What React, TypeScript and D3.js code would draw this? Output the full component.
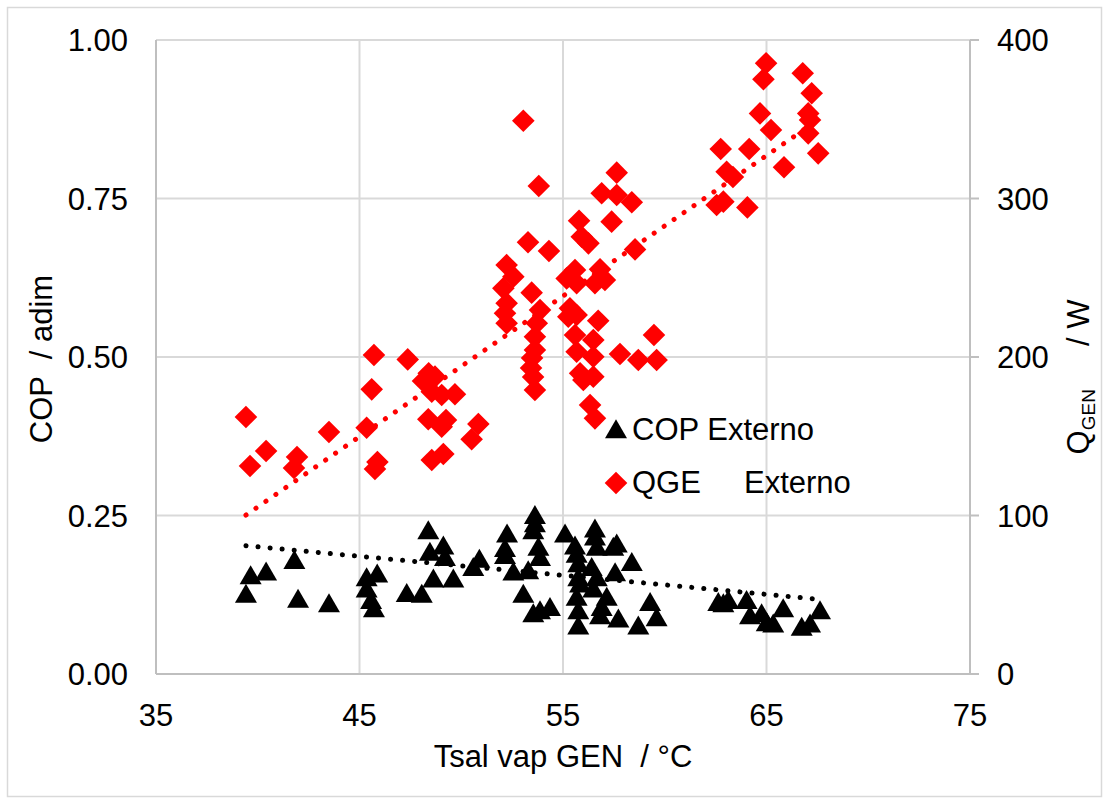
import React from "react";
import * as d3 from "d3";

const WIDTH = 1104;
const HEIGHT = 800;

// Axis ticks
const tempTicks = [35, 45, 55, 65, 75];
const copTicks = [0, 0.25, 0.5, 0.75, 1.0];
const qTicks = [0, 100, 200, 300, 400];

// COP Externo: outlet vapour temperature (°C) and COP
const copTemp = [
  39.42, 39.65, 40.41, 41.8, 41.98, 43.5, 45.35, 45.35, 45.57, 45.71, 45.87, 47.32,
  48.06, 48.38, 48.46, 48.63, 49.12, 49.2, 49.61, 50.59, 50.89, 52.15, 52.25, 52.15,
  52.56, 53.29, 53.05, 53.54, 53.87, 54.36, 53.62, 53.62, 53.54, 53.79, 53.87, 55.1,
  55.59, 55.67, 55.75, 55.75, 55.84, 55.67, 55.75, 55.75, 56.57, 56.57, 56.66, 56.41,
  56.66, 56.49, 56.9, 56.82, 57.15, 57.47, 57.64, 57.56, 57.72, 58.38, 58.7, 59.28,
  59.6, 62.63, 62.88, 63.12, 64.02, 64.19, 64.76, 65.01, 65.33, 65.82, 66.73, 67.14,
  67.63,
];
const copValues = [
  0.127, 0.156, 0.162, 0.18, 0.119, 0.112, 0.153, 0.135, 0.117, 0.104, 0.159, 0.128,
  0.127, 0.227, 0.193, 0.151, 0.203, 0.185, 0.151, 0.169, 0.182, 0.188, 0.222, 0.199,
  0.162, 0.164, 0.127, 0.096, 0.101, 0.106, 0.251, 0.238, 0.227, 0.201, 0.185, 0.222,
  0.203, 0.19, 0.175, 0.153, 0.143, 0.122, 0.101, 0.077, 0.23, 0.217, 0.201, 0.169,
  0.153, 0.135, 0.106, 0.093, 0.122, 0.201, 0.206, 0.161, 0.088, 0.177, 0.077, 0.114,
  0.09, 0.114, 0.112, 0.117, 0.117, 0.093, 0.096, 0.082, 0.08, 0.104, 0.075, 0.08,
  0.101,
];

// QGE Externo: outlet vapour temperature (°C) and generator heat (W)
const qTemp = [
  39.42, 39.62, 40.41, 41.93, 41.78, 43.5, 45.35, 45.6, 45.71, 45.88, 45.76, 47.37,
  48.12, 48.4, 48.71, 48.55, 49.04, 49.69, 48.38, 49.25, 49.04, 50.84, 50.51, 48.55,
  49.12, 53.05, 53.81, 53.28, 54.31, 52.23, 52.56, 52.07, 53.46, 52.23, 52.15, 52.23,
  53.87, 53.71, 53.62, 53.62, 53.48, 53.43, 53.53, 53.62, 55.79, 55.92, 56.25, 56.9,
  57.64, 58.38, 57.64, 57.39, 58.54, 55.59, 55.18, 55.67, 56.82, 57.06, 56.57, 55.34,
  55.26, 55.67, 56.73, 55.59, 56.49, 55.67, 56.49, 59.47, 57.8, 58.7, 59.6, 55.84,
  56.49, 56.0, 56.33, 56.57, 64.98, 64.85, 66.78, 67.22, 64.68, 65.22, 67.05, 67.14,
  67.05, 67.54, 65.86, 62.75, 64.15, 63.04, 63.35, 62.55, 62.88, 64.06,
];
const qValues = [
  162.1, 131.2, 140.7, 136.9, 130.0, 152.7, 155.4, 179.6, 201.3, 133.8, 129.3, 198.5,
  184.9, 189.7, 187.6, 178.1, 176.0, 176.5, 160.7, 160.2, 156.0, 157.7, 148.1, 135.0,
  138.8, 349.1, 307.9, 272.4, 266.9, 258.0, 250.7, 243.3, 240.6, 233.9, 227.6, 221.3,
  229.6, 221.3, 212.8, 204.4, 199.4, 193.1, 187.4, 179.2, 286.0, 275.9, 271.7, 303.3,
  302.2, 297.6, 316.3, 285.4, 267.9, 254.9, 249.6, 246.5, 255.3, 248.6, 246.5, 230.7,
  225.4, 226.5, 222.9, 213.9, 210.7, 203.3, 200.2, 213.9, 201.9, 198.1, 198.1, 189.7,
  187.6, 185.5, 169.7, 161.3, 385.3, 375.2, 379.0, 366.4, 353.7, 343.2, 353.7, 349.5,
  341.1, 328.5, 319.7, 331.2, 331.2, 316.9, 313.6, 295.9, 298.0, 294.4,
];

// Linear trend lines (intercept + slope · T)
const copTrendIntercept = 0.3208;
const copTrendSlope = -0.003003;
const qTrendIntercept = -249.3;
const qTrendSlope = 8.868;

const FONT = "'Liberation Sans', Arial, sans-serif";
const GRID = "#d9d9d9";
const AXIS = "#bfbfbf";

export default function App() {
  const left = 156;
  const right = 970;
  const top = 40;
  const bottom = 674;

  const x = d3.scaleLinear().domain([35, 75]).range([left, right]);
  const yCop = d3.scaleLinear().domain([0, 1]).range([bottom, top]);
  const yQ = d3.scaleLinear().domain([0, 400]).range([bottom, top]);

  const diamond = "M0,-11.3L11.3,0L0,11.3L-11.3,0Z";
  const triangle = "M0,-9.8L11,9.2L-11,9.2Z";

  const line = d3.line<[number, number]>();

  const copExtent = d3.extent(copTemp) as [number, number];
  const qExtent = d3.extent(qTemp) as [number, number];
  const copTrendPts: [number, number][] = copExtent.map((t) => [
    x(t),
    yCop(copTrendIntercept + copTrendSlope * t),
  ]);
  const qTrendPts: [number, number][] = qExtent.map((t) => [
    x(t),
    yQ(qTrendIntercept + qTrendSlope * t),
  ]);

  return (
    <div style={{ position: "absolute", left: 0, top: 0 }}>
      <svg width={WIDTH} height={HEIGHT} style={{ display: "block", background: "#fff" }}>
        <rect x={7.5} y={7.5} width={1094} height={789} fill="#fff" stroke={GRID} strokeWidth={1.5} />

        {/* gridlines */}
        {tempTicks.slice(1, -1).map((t) => (
          <line key={"vx" + t} x1={x(t)} x2={x(t)} y1={top} y2={bottom} stroke={GRID} strokeWidth={2} />
        ))}
        {copTicks.slice(1).map((c) => (
          <line key={"hy" + c} x1={left} x2={right} y1={yCop(c)} y2={yCop(c)} stroke={GRID} strokeWidth={2} />
        ))}

        {/* axes */}
        <line x1={left} x2={left} y1={top} y2={bottom} stroke={AXIS} strokeWidth={2} />
        <line x1={left} x2={right} y1={bottom} y2={bottom} stroke={AXIS} strokeWidth={2} />
        <line x1={right} x2={right} y1={top} y2={bottom} stroke={AXIS} strokeWidth={2} />
        {qTicks.map((q) => (
          <line key={"qt" + q} x1={right} x2={right + 9} y1={yQ(q)} y2={yQ(q)} stroke={AXIS} strokeWidth={2} />
        ))}

        {/* tick labels */}
        <g fontFamily={FONT} fontSize={31} fill="#000">
          {copTicks.map((c) => (
            <text key={"cl" + c} x={128} y={yCop(c)} dy="0.36em" textAnchor="end">
              {c.toFixed(2)}
            </text>
          ))}
          {qTicks.map((q) => (
            <text key={"ql" + q} x={997} y={yQ(q)} dy="0.36em" textAnchor="start">
              {q}
            </text>
          ))}
          {tempTicks.map((t) => (
            <text key={"tl" + t} x={x(t)} y={726} textAnchor="middle">
              {t}
            </text>
          ))}
        </g>

        {/* axis titles */}
        <g fontFamily={FONT} fontSize={31} fill="#000">
          <text x={563} y={767} textAnchor="middle" style={{ whiteSpace: "pre" }}>
            {"Tsal vap GEN  / °C"}
          </text>
          <text
            transform={`translate(52,359) rotate(-90)`}
            textAnchor="middle"
            style={{ whiteSpace: "pre" }}
          >
            {"COP  / adim"}
          </text>
          <text
            transform={`translate(1089,377) rotate(-90)`}
            textAnchor="middle"
            style={{ whiteSpace: "pre" }}
          >
            <tspan>Q</tspan>
            <tspan fontSize={19} dy={6}>GEN</tspan>
            <tspan dy={-6}>{"     / W"}</tspan>
          </text>
        </g>

        {/* COP markers */}
        <g fill="#000">
          {copTemp.map((t, i) => (
            <path key={"c" + i} d={triangle} transform={`translate(${x(t)},${yCop(copValues[i])})`} />
          ))}
        </g>

        {/* QGE markers */}
        <g fill="#ff0000">
          {qTemp.map((t, i) => (
            <path key={"q" + i} d={diamond} transform={`translate(${x(t)},${yQ(qValues[i])})`} />
          ))}
        </g>

        {/* trend lines */}
        <path
          d={line(copTrendPts) || ""}
          fill="none"
          stroke="#000"
          strokeWidth={5}
          strokeLinecap="round"
          strokeDasharray="0.1 12"
        />
        <path
          d={line(qTrendPts) || ""}
          fill="none"
          stroke="#ff0000"
          strokeWidth={5}
          strokeLinecap="round"
          strokeDasharray="0.1 12"
        />

        {/* legend */}
        <g fontFamily={FONT} fontSize={31} fill="#000">
          <path d={triangle} transform="translate(616,429)" fill="#000" />
          <text x={632} y={440} style={{ whiteSpace: "pre" }}>
            COP Externo
          </text>
          <path d={diamond} transform="translate(616,483)" fill="#ff0000" />
          <text x={632} y={493} style={{ whiteSpace: "pre" }}>
            {"QGE     Externo"}
          </text>
        </g>
      </svg>
    </div>
  );
}
